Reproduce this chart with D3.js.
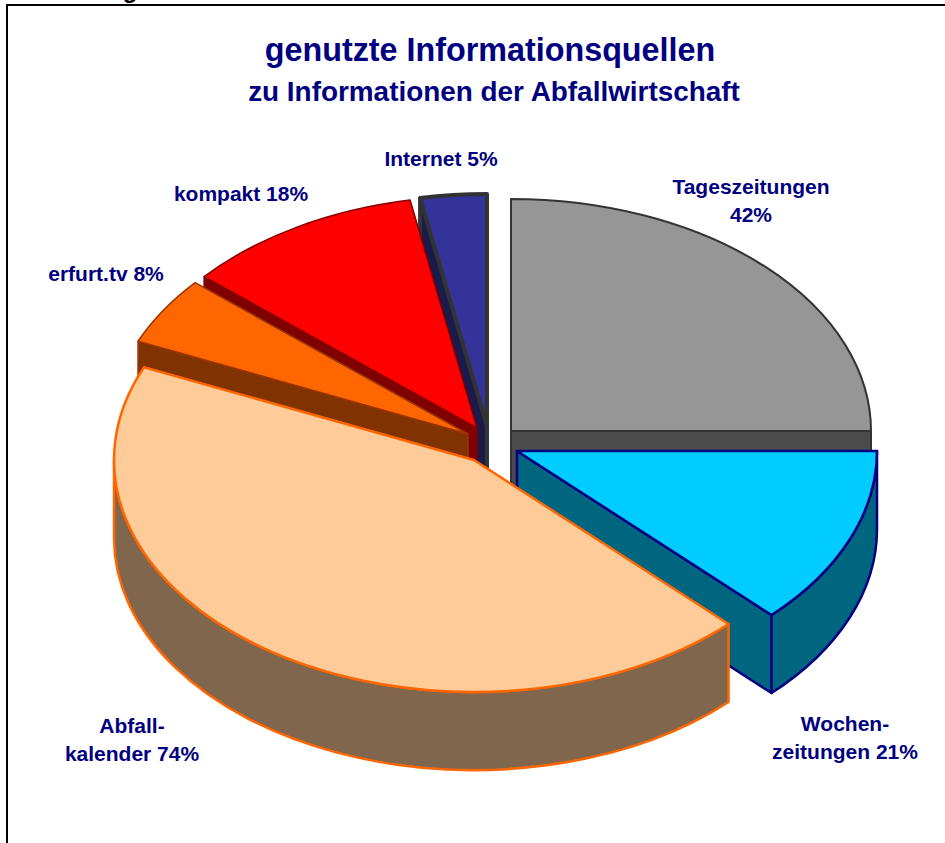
<!DOCTYPE html>
<html><head><meta charset="utf-8">
<script src="https://cdn.jsdelivr.net/npm/d3@7"></script>
<style>
html,body{margin:0;padding:0;background:#fff;overflow:hidden}
svg{display:block}
text{font-family:"Liberation Sans",Arial,sans-serif;font-weight:bold;fill:#000080}
</style></head><body>
<script>
// Data, clockwise from 12 o'clock
const categories = ["Tageszeitungen","Wochenzeitungen","Abfallkalender","erfurt.tv","kompakt","Internet"];
const values = [42,21,74,8,18,5];
const labelLines = [["Tageszeitungen","42%"],["Wochen-","zeitungen 21%"],["Abfall-","kalender 74%"],["erfurt.tv 8%"],["kompakt 18%"],["Internet 5%"]];
const titleText = "genutzte Informationsquellen";
const subtitleText = "zu Informationen der Abfallwirtschaft";

// Styles / layout
const topColors  = ["#969696","#00ccff","#ffcc99","#ff6600","#ff0000","#333399"];
const wallColors = ["#4b4b4b","#006680","#80664d","#803300","#800000","#1a1a4d"];
const strokes    = ["#333333","#000080","#ff6600","#993300","#800000","#333333"];
const strokeW    = [2,2.5,2.5,1.5,1.5,4];
const centers    = [[511,431],[517,451],[474,460],[468,434],[477,428],[487,426]];
const labelPos   = [[751,194],[845,731],[132,733],[106,281],[241,201],[441,166]];
const drawOrder  = [5,4,3,0,1,2];

const W=945,H=843,rx=360,ry=232,depth=78,k=ry/rx;
const svg=d3.select("body").append("svg").attr("width",W).attr("height",H);
svg.append("rect").attr("x",7).attr("y",5).attr("width",W+20).attr("height",H+20)
   .attr("fill","#fff").attr("stroke","#000").attr("stroke-width",2);
svg.append("text").attr("x",130).attr("y",-2).attr("font-size",24).attr("text-anchor","middle")
   .style("fill","#000").text("g");

const arcs=d3.pie().sort(null).value(d=>d).startAngle(0).endAngle(2*Math.PI)(values);
const arcGen=d3.arc().innerRadius(0).outerRadius(rx);
const dz=depth/k;

function radialWall(a){
  const x=rx*Math.sin(a),y=-rx*Math.cos(a);
  return d3.line()([[0,0],[x,y],[x,y+dz],[0,dz]])+"Z";
}
function outerWall(a0,a1){
  const s=Math.max(a0,Math.PI/2),e=Math.min(a1,3*Math.PI/2);
  if(e<=s) return null;
  const p=d3.path();
  p.arc(0,0,rx,s-Math.PI/2,e-Math.PI/2,false);
  p.lineTo(rx*Math.sin(e),-rx*Math.cos(e)+dz);
  p.arc(0,dz,rx,e-Math.PI/2,s-Math.PI/2,true);
  p.closePath();
  return p.toString();
}
drawOrder.forEach(i=>{
  const d=arcs[i];
  const g=svg.append("g").attr("transform",`translate(${centers[i][0]},${centers[i][1]}) scale(1,${k})`);
  const style=s=>s.attr("stroke",strokes[i]).attr("stroke-width",strokeW[i]).attr("stroke-linejoin","round")
                  .attr("vector-effect","non-scaling-stroke");
  const walls=[];
  if(d.startAngle>=Math.PI) walls.push(d.startAngle);
  if(d.endAngle<=Math.PI) walls.push(d.endAngle);
  walls.forEach(a=>{
    g.append("path").attr("d",radialWall(a)).attr("fill",wallColors[i]).call(style);
  });
  const o=outerWall(d.startAngle,d.endAngle);
  if(o) g.append("path").attr("d",o).attr("fill",wallColors[i]).call(style);
  g.append("path").attr("d",arcGen(d)).attr("fill",topColors[i]).call(style);
});

svg.append("text").attr("x",490).attr("y",61).attr("text-anchor","middle").attr("font-size",32.3).text(titleText);
svg.append("text").attr("x",494).attr("y",101).attr("text-anchor","middle").attr("font-size",27.9).text(subtitleText);
labelLines.forEach((ls,i)=>{
  const t=svg.append("text").attr("text-anchor","middle").attr("font-size",21);
  ls.forEach((l,j)=>t.append("tspan").attr("x",labelPos[i][0]).attr("y",labelPos[i][1]+j*28).text(l));
});
</script>
</body></html>
